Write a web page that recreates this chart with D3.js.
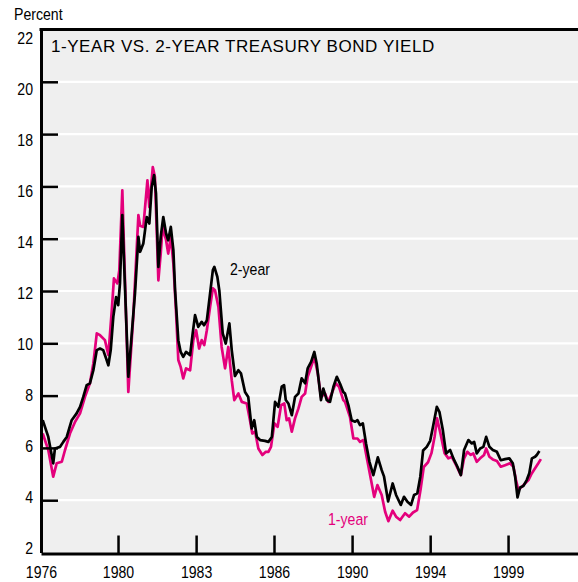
<!DOCTYPE html>
<html lang="en">

<head>
  <meta charset="UTF-8">
  <title>1-Year vs. 2-Year Treasury Bond Yield</title>
  <script src="https://d3js.org/d3.v7.min.js"></script>

  <style>
    body {
      margin: 0;
      background: #fff;
    }

    text {
      font-family: 'Liberation Sans', Arial, sans-serif;
    }
  </style>

</head>

<body>

  <div id="chart"></div>

  <script>

    // 2-year yield (black), decimal years
    const twoYearDates = [
      1976.68, 1976.94, 1977.17, 1977.25, 1977.49, 1977.64, 1977.80, 1978.03, 1978.26, 1978.42,
      1978.57, 1978.73, 1978.88, 1979.04, 1979.20, 1979.35, 1979.50, 1979.66, 1979.74, 1979.85,
      1979.97, 1980.10, 1980.20, 1980.28, 1980.39, 1980.67, 1980.98, 1981.14, 1981.22, 1981.37,
      1981.53, 1981.65, 1981.76, 1981.87, 1981.96, 1982.07, 1982.18, 1982.30, 1982.43, 1982.53,
      1982.65, 1982.77, 1982.85, 1983.00, 1983.11, 1983.23, 1983.36, 1983.55, 1983.67, 1983.78,
      1983.93, 1984.09, 1984.20, 1984.33, 1984.48, 1984.61, 1984.68, 1984.82, 1984.91, 1985.07,
      1985.21, 1985.38, 1985.49, 1985.64, 1985.80, 1985.92, 1986.11, 1986.26, 1986.42, 1986.54,
      1986.66, 1986.81, 1987.04, 1987.20, 1987.36, 1987.51, 1987.66, 1987.82, 1987.93, 1988.01,
      1988.13, 1988.29, 1988.44, 1988.60, 1988.75, 1988.91, 1989.03, 1989.19, 1989.34, 1989.45,
      1989.56, 1989.65, 1989.76, 1989.92, 1990.07, 1990.23, 1990.39, 1990.54, 1990.69, 1990.77,
      1990.93, 1991.08, 1991.24, 1991.35, 1991.47, 1991.60, 1991.75, 1991.91, 1992.09, 1992.30,
      1992.48, 1992.59, 1992.78, 1992.99, 1993.15, 1993.37, 1993.52, 1993.68, 1993.85, 1993.99,
      1994.14, 1994.28, 1994.41, 1994.58, 1994.74, 1994.88, 1995.05, 1995.17, 1995.33, 1995.48,
      1995.67, 1995.82, 1996.01, 1996.17, 1996.32, 1996.52, 1996.68, 1996.79, 1996.91, 1997.07,
      1997.22, 1997.35, 1997.50, 1997.66, 1997.85, 1998.03, 1998.23, 1998.43, 1998.59, 1998.70,
      1998.81, 1998.93, 1999.08, 1999.24, 1999.36, 1999.48, 1999.63, 1999.71, 1999.83
    ];
    const twoYear = [
      7.06, 6.42, 5.41, 5.98, 6.04, 6.23, 6.42, 7.06, 7.32, 7.57,
      7.95, 8.40, 8.47, 8.97, 9.74, 9.80, 9.74, 9.36, 9.16, 9.74,
      11.01, 11.77, 11.46, 12.29, 14.90, 8.72, 11.90, 14.07, 13.50, 13.82,
      14.83, 14.58, 15.98, 16.43, 15.73, 12.92, 14.07, 14.83, 14.20, 13.94,
      14.45, 13.56, 12.03, 10.12, 9.67, 9.48, 9.67, 9.55, 10.38, 11.08,
      10.63, 10.82, 10.69, 10.88, 11.90, 12.80, 12.92, 12.54, 12.03, 10.38,
      9.99, 10.76, 9.74, 8.75, 8.97, 8.85, 8.14, 7.95, 6.75, 7.06,
      6.42, 6.30, 6.27, 6.23, 6.42, 7.76, 7.57, 8.34, 8.40, 7.83,
      7.70, 7.25, 7.95, 8.08, 8.66, 8.47, 9.04, 9.29, 9.67, 9.23,
      8.47, 7.83, 8.27, 7.83, 7.76, 8.34, 8.72, 8.45, 8.14, 8.08,
      7.63, 7.06, 7.00, 7.06, 6.87, 6.94, 6.17, 5.47, 4.96, 5.64,
      5.15, 4.90, 3.95, 4.64, 4.20, 3.82, 4.13, 3.94, 3.82, 4.20,
      4.26, 4.90, 5.90, 6.04, 6.27, 6.85, 7.57, 7.38, 6.68, 5.79,
      5.92, 5.60, 5.28, 4.96, 5.92, 6.30, 6.17, 6.23, 5.79, 5.98,
      6.04, 6.42, 6.04, 5.92, 5.85, 5.53, 5.57, 5.60, 5.41, 4.90,
      4.11, 4.49, 4.54, 4.77, 5.03, 5.60, 5.66, 5.73, 5.88
    ];

    // 1-year yield (magenta), decimal years
    const oneYearDates = [
      1976.68, 1976.94, 1977.17, 1977.33, 1977.57, 1977.72, 1977.95, 1978.19, 1978.42, 1978.65,
      1978.88, 1979.04, 1979.20, 1979.35, 1979.58, 1979.74, 1979.90, 1980.00, 1980.16, 1980.25,
      1980.39, 1980.67, 1980.90, 1981.14, 1981.22, 1981.37, 1981.56, 1981.65, 1981.81, 1981.91,
      1982.07, 1982.18, 1982.27, 1982.43, 1982.53, 1982.65, 1982.77, 1982.89, 1983.00, 1983.11,
      1983.23, 1983.36, 1983.55, 1983.70, 1983.83, 1983.97, 1984.09, 1984.21, 1984.33, 1984.48,
      1984.61, 1984.71, 1984.87, 1985.02, 1985.18, 1985.33, 1985.49, 1985.61, 1985.80, 1985.96,
      1986.19, 1986.34, 1986.45, 1986.58, 1986.73, 1986.92, 1987.08, 1987.20, 1987.32, 1987.48,
      1987.63, 1987.79, 1987.94, 1988.05, 1988.16, 1988.29, 1988.44, 1988.60, 1988.75, 1988.91,
      1989.03, 1989.19, 1989.34, 1989.50, 1989.65, 1989.84, 1989.99, 1990.15, 1990.34, 1990.49,
      1990.69, 1990.77, 1991.00, 1991.16, 1991.35, 1991.47, 1991.63, 1991.79, 1991.97, 1992.13,
      1992.28, 1992.48, 1992.64, 1992.79, 1992.99, 1993.15, 1993.34, 1993.57, 1993.76, 1993.94,
      1994.13, 1994.29, 1994.44, 1994.64, 1994.80, 1994.95, 1995.06, 1995.22, 1995.41, 1995.59,
      1995.75, 1995.95, 1996.17, 1996.32, 1996.47, 1996.63, 1996.75, 1996.91, 1997.07, 1997.25,
      1997.35, 1997.50, 1997.66, 1997.85, 1998.03, 1998.23, 1998.46, 1998.62, 1998.74, 1998.85,
      1999.01, 1999.16, 1999.32, 1999.48, 1999.63, 1999.78, 1999.90
    ];
    const oneYear = [
      6.55, 5.92, 4.90, 5.41, 5.47, 5.92, 6.55, 7.00, 7.32, 7.95,
      8.47, 9.23, 10.38, 10.31, 10.12, 9.55, 11.27, 12.48, 12.29, 12.80,
      15.85, 8.14, 11.01, 14.90, 14.50, 14.45, 16.23, 15.21, 16.74, 16.36,
      12.41, 13.43, 14.45, 13.94, 13.43, 14.07, 13.05, 11.27, 9.36, 9.10,
      8.66, 9.04, 8.97, 10.12, 10.50, 9.80, 10.12, 9.93, 10.50, 11.39,
      12.10, 12.03, 11.39, 9.86, 9.04, 9.86, 8.59, 7.83, 8.08, 7.76,
      7.70, 7.06, 6.55, 6.62, 5.98, 5.73, 5.85, 5.85, 6.04, 6.94,
      6.81, 7.63, 7.70, 7.06, 7.13, 6.62, 7.13, 7.51, 7.95, 8.08,
      8.72, 9.10, 9.48, 8.85, 7.95, 8.08, 7.76, 8.08, 8.47, 8.34,
      7.83, 7.76, 7.19, 6.36, 6.36, 6.23, 6.30, 5.60, 4.83, 4.13,
      4.58, 4.20, 3.56, 3.20, 3.60, 3.37, 3.24, 3.50, 3.37, 3.53,
      3.62, 4.40, 5.27, 5.45, 5.80, 6.45, 7.13, 6.55, 5.80, 5.60,
      5.66, 5.34, 4.96, 5.60, 5.85, 5.73, 5.79, 5.47, 5.60, 5.73,
      5.98, 5.66, 5.56, 5.50, 5.28, 5.34, 5.41, 5.28, 4.77, 4.39,
      4.51, 4.64, 4.77, 5.03, 5.22, 5.41, 5.57
    ];

    // axis ticks (the original places its year ticks at even spacing)
    const xTickDates = [1976.6, 1980.19, 1983.83, 1987.46, 1991.10, 1994.74, 1998.37];
    const xTickLabels = ['1976', '1980', '1983', '1986', '1990', '1994', '1999'];
    const yTicks = [2, 4, 6, 8, 10, 12, 14, 16, 18, 20, 22];

    const width = 578;
    const height = 582;
    const plot = { left: 41, right: 578, top: 29.5, bottom: 552.5 };
    const narrow = 0.83; // horizontal squeeze to mimic a condensed face

    const svg = d3.select('#chart')
      .append('svg')
      .attr('width', width)
      .attr('height', height);

    const scaleX = d3.scaleLinear()
      .domain([1976.6, 2001.63])
      .range([plot.left, plot.right]);

    const scaleY = d3.scaleLinear()
      .domain([2, 22])
      .range([plot.bottom, plot.top]);

    // labels in the original sit on a slightly tighter spacing than the grid
    const labelY = d3.scaleLinear()
      .domain([2, 22])
      .range([548, 38]);

    // plot background
    svg.append('rect')
      .attr('x', plot.left)
      .attr('y', plot.top)
      .attr('width', plot.right - plot.left)
      .attr('height', plot.bottom - plot.top)
      .attr('fill', '#efefef');

    // white grid
    svg.append('g')
      .selectAll('line')
      .data(yTicks.filter(d => d > 2 && d < 22))
      .enter()
      .append('line')
      .attr('x1', plot.left)
      .attr('x2', plot.right)
      .attr('y1', d => scaleY(d))
      .attr('y2', d => scaleY(d))
      .attr('stroke', '#fff')
      .attr('stroke-width', 2.2);

    // series lines
    const line = d3.line()
      .x(d => scaleX(d[0]))
      .y(d => scaleY(d[1]));

    svg.append('path')
      .datum(oneYearDates.map((d, i) => [d, oneYear[i]]))
      .attr('d', line)
      .attr('fill', 'none')
      .attr('stroke', '#e4007c')
      .attr('stroke-width', 2.7)
      .attr('stroke-linejoin', 'round');

    svg.append('path')
      .datum(twoYearDates.map((d, i) => [d, twoYear[i]]))
      .attr('d', line)
      .attr('fill', 'none')
      .attr('stroke', '#000')
      .attr('stroke-width', 2.7)
      .attr('stroke-linejoin', 'round');

    // y axis: ticks pointing inward
    const yAxis = svg.append('g')
      .attr('transform', `translate(${plot.left},0)`)
      .call(d3.axisLeft(scaleY)
        .tickValues(yTicks.filter(d => d > 2 && d < 22))
        .tickSizeInner(-17)
        .tickSizeOuter(0)
        .tickFormat(''));
    yAxis.select('.domain').attr('stroke-width', 3);
    yAxis.selectAll('.tick line').attr('stroke-width', 2.5);

    // x axis: ticks pointing up
    const xAxis = svg.append('g')
      .attr('transform', `translate(0,${plot.bottom + 1})`)
      .call(d3.axisBottom(scaleX)
        .tickValues(xTickDates)
        .tickSizeInner(-18)
        .tickSizeOuter(0)
        .tickPadding(12)
        .tickFormat((d, i) => xTickLabels[i]));
    xAxis.select('.domain').attr('stroke-width', 3);
    xAxis.selectAll('.tick line')
      .attr('stroke-width', 2.5)
      .attr('display', (d, i) => i === 0 ? 'none' : null);
    xAxis.selectAll('.tick text')
      .attr('font-family', null)
      .attr('font-size', 17)
      .attr('fill', '#000')
      .attr('transform', `scale(${narrow},1)`);

    // top border
    svg.append('line')
      .attr('x1', plot.left - 1.5)
      .attr('x2', plot.right)
      .attr('y1', plot.top)
      .attr('y2', plot.top)
      .attr('stroke', '#000')
      .attr('stroke-width', 3);

    // y labels
    svg.append('g')
      .selectAll('text')
      .data(yTicks)
      .enter()
      .append('text')
      .attr('transform', d => `translate(33,${labelY(d)}) scale(${narrow},1)`)
      .attr('dy', '0.36em')
      .attr('text-anchor', 'end')
      .attr('font-size', 17)
      .text(d => d);

    const narrowText = (x, y, txt, color) => {
      svg.append('text')
        .attr('transform', `translate(${x},${y}) scale(${narrow},1)`)
        .attr('font-size', 17)
        .attr('fill', color || '#000')
        .text(txt);
    };

    narrowText(14, 20, 'Percent');
    narrowText(230, 275, '2-year');
    narrowText(328, 525, '1-year', '#e4007c');

    svg.append('text')
      .attr('x', 51)
      .attr('y', 52)
      .attr('font-size', 17)
      .attr('letter-spacing', 0.55)
      .text('1-YEAR VS. 2-YEAR TREASURY BOND YIELD');

  </script>

</body>

</html>
